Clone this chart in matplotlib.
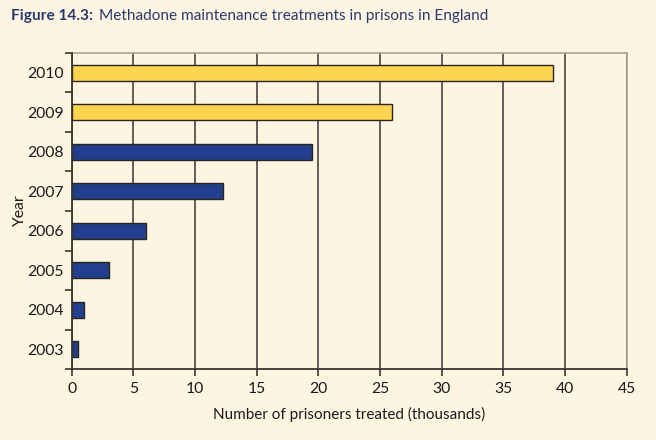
import matplotlib.pyplot as plt
import numpy as np

# data
years = ["2003", "2004", "2005", "2006", "2007", "2008", "2009", "2010"]
treated = [0.5, 1.0, 3.0, 6.0, 12.3, 19.5, 26.0, 39.0]
bar_colors = ["#213f8c"] * 6 + ["#fdd450"] * 2

bg = "#fdf5e2"
dark = "#3b3530"
navy = "#2b3a6e"

plt.rcParams['font.family'] = ['Lato', 'DejaVu Sans']

fig = plt.figure(figsize=(6.56, 4.40), dpi=100, facecolor=bg)
ax = fig.add_axes([71.7 / 656, 1 - 369 / 440, 555 / 656, 316 / 440])
ax.set_facecolor(bg)

y = np.arange(len(years))
ax.barh(y, treated, height=0.4, color=bar_colors, edgecolor="#2a2520",
        linewidth=1.0, zorder=3)

ax.set_xlim(0, 45)
ax.set_ylim(-0.5, len(years) - 0.5)
ax.set_xticks(np.arange(0, 46, 5))
ax.set_yticks(y)
ax.set_yticklabels(years)
ax.set_yticks(np.arange(-0.5, len(years), 1), minor=True)

ax.grid(axis="x", color=dark, linewidth=1.1, zorder=1)
ax.tick_params(axis="y", which="major", length=0, pad=6, labelsize=11.3,
               labelcolor="#1a1a1a")
ax.tick_params(axis="y", which="minor", length=5, width=1.2, color=dark)
ax.tick_params(axis="x", length=5, width=1.2, color=dark, labelsize=11.3,
               labelcolor="#1a1a1a", pad=4)

for side in ["left", "bottom"]:
    ax.spines[side].set_color(dark)
    ax.spines[side].set_linewidth(1.3)
    ax.spines[side].set_zorder(4)
for side in ["top", "right"]:
    ax.spines[side].set_color("#a8a39c")
    ax.spines[side].set_linewidth(1.2)

ax.set_xlabel("Number of prisoners treated (thousands)", fontsize=11,
              color="#1a1a1a", labelpad=8)
ax.set_ylabel("Year", fontsize=11.3, color="#1a1a1a", labelpad=0)

fig.text(11 / 656, 1 - 20 / 440, "Figure 14.3:", fontsize=11.1,
         fontweight="bold", color=navy, va="baseline")
fig.text(99 / 656, 1 - 20 / 440, "Methadone maintenance treatments in prisons in England",
         fontsize=11.1, color=navy, va="baseline")

fig.savefig("out.png", dpi=100, facecolor=bg)
